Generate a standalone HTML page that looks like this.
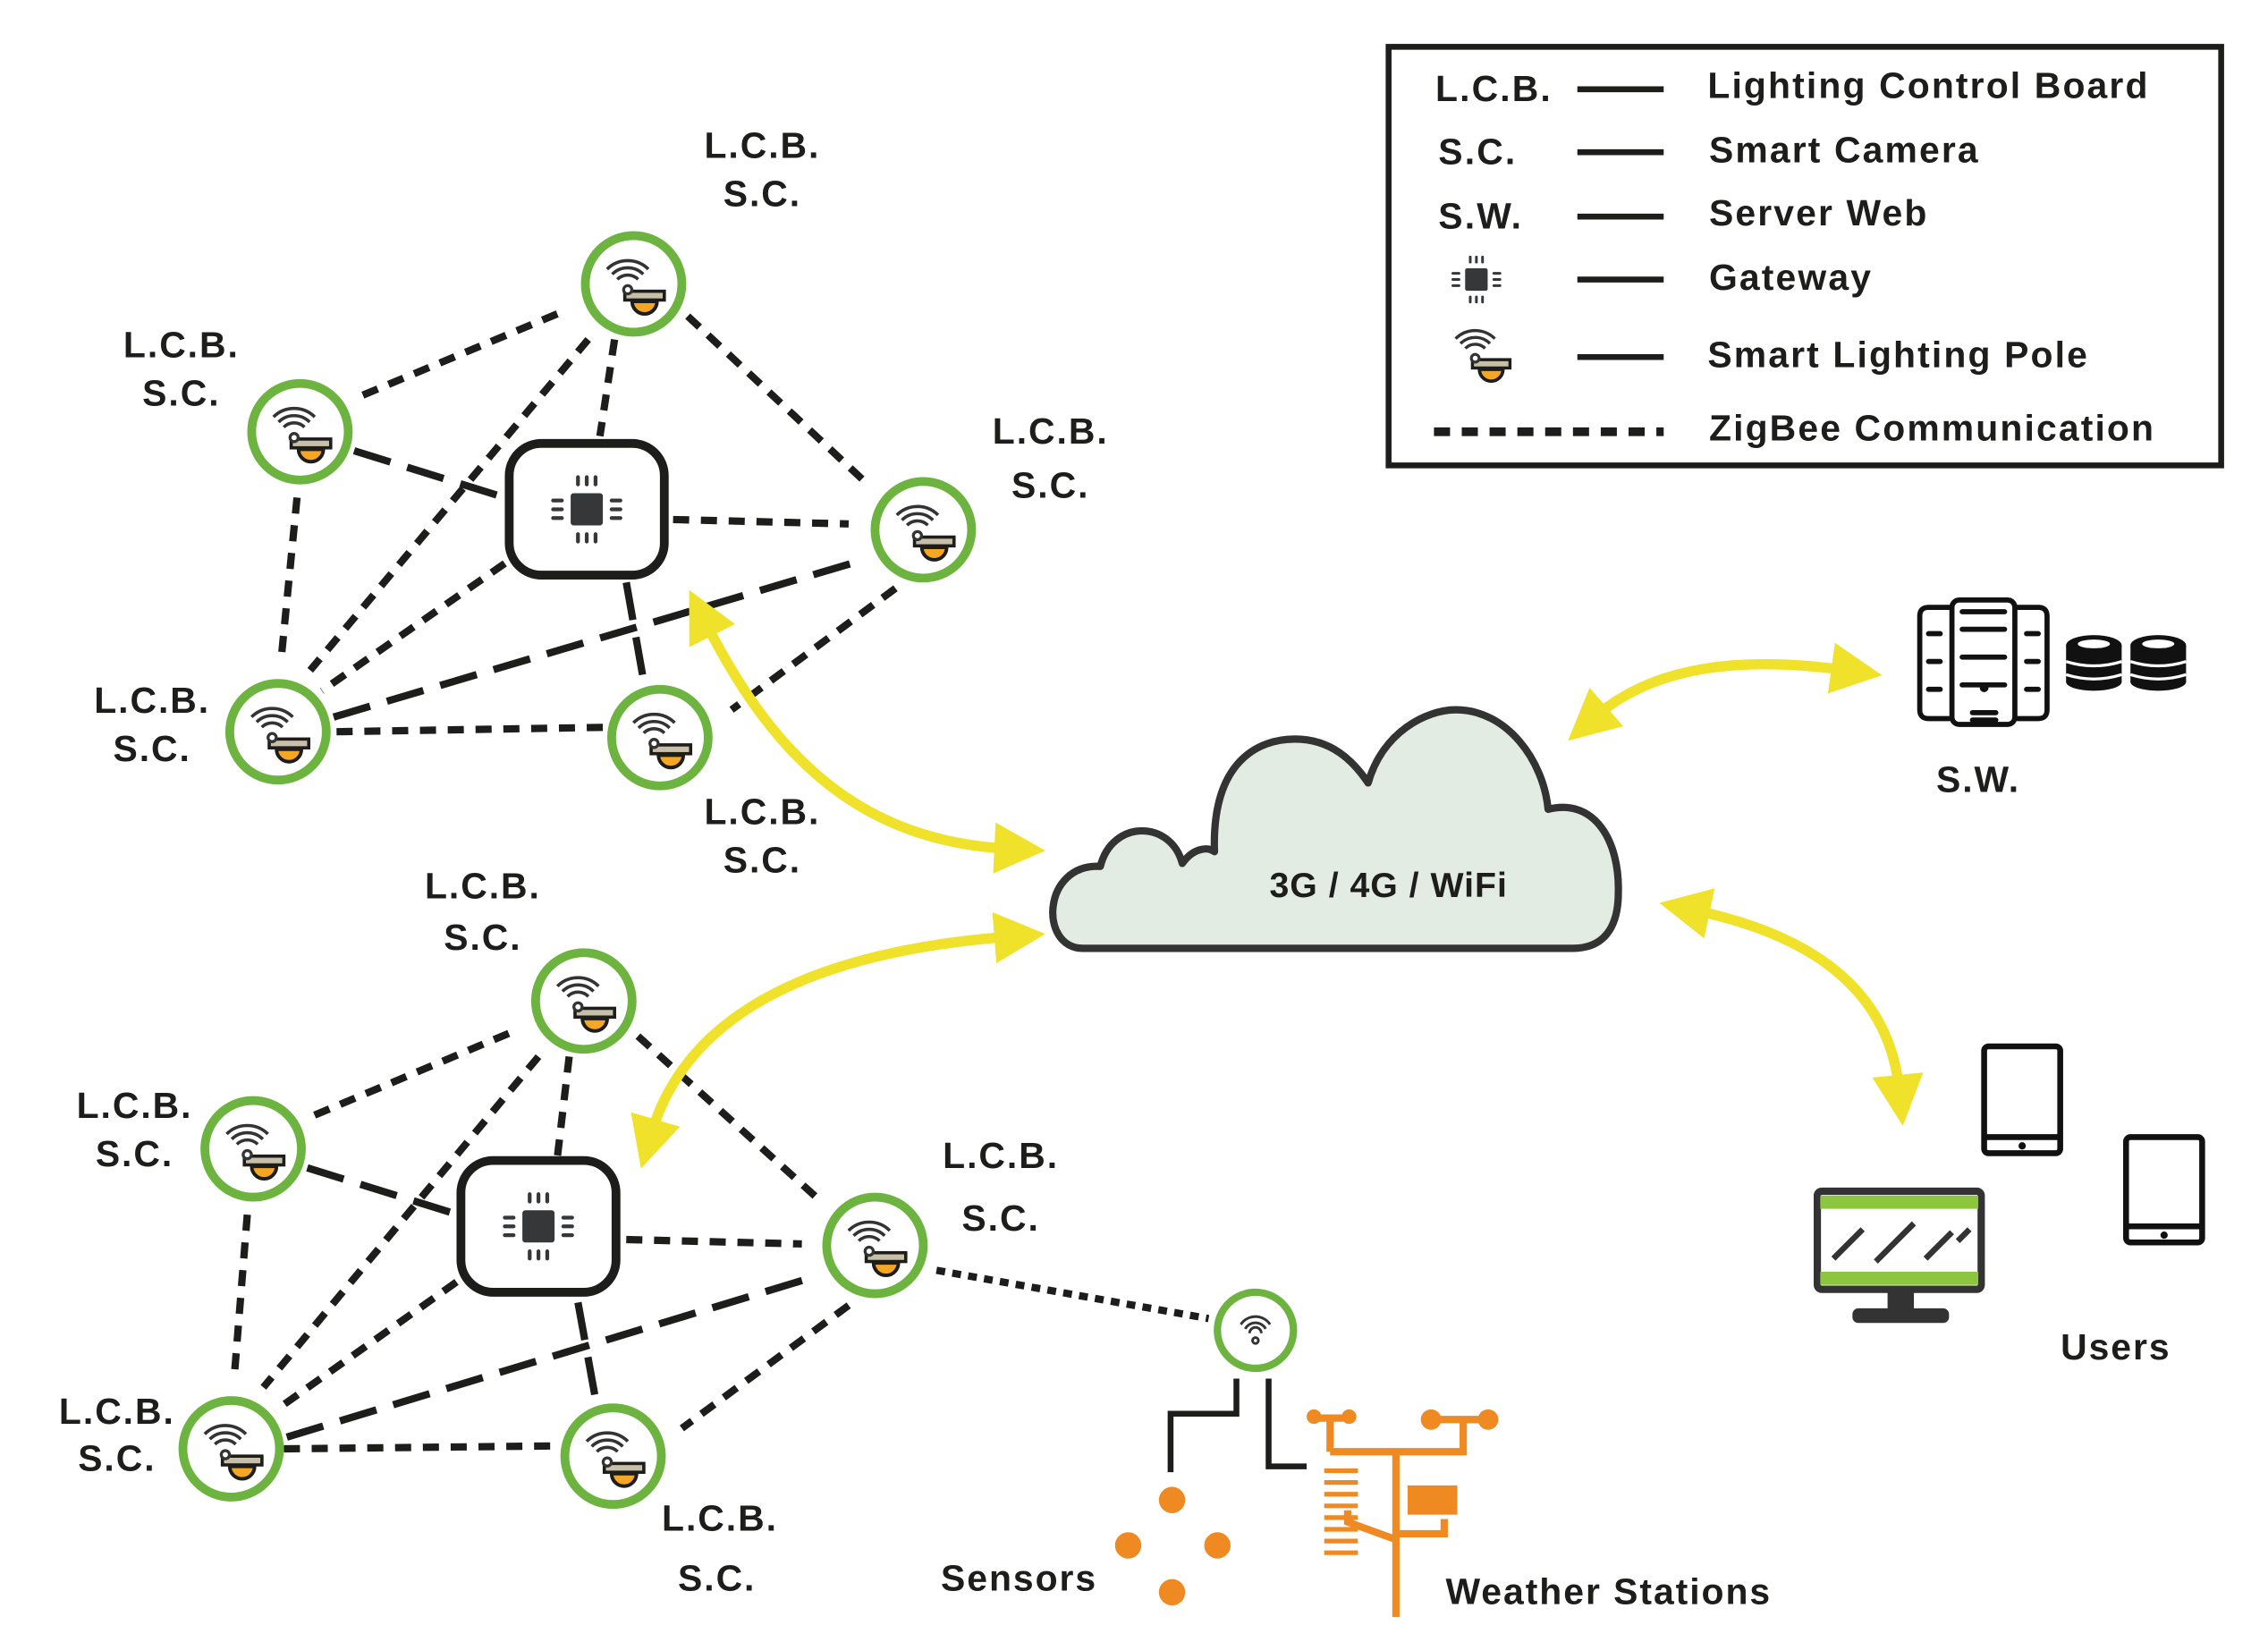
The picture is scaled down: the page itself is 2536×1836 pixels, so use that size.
<!DOCTYPE html>
<html><head><meta charset="utf-8"><style>
html,body{margin:0;padding:0;background:#fff;}
svg{display:block;}
text{font-family:"Liberation Sans",sans-serif;font-weight:bold;fill:#1d1d1b;}
</style></head><body>
<svg width="2536" height="1836" viewBox="0 0 1550 1122" preserveAspectRatio="none" xmlns="http://www.w3.org/2000/svg">
<defs>
<g id="picon">
 <path d="M-18.1,-10.1 A20,20 0 0 1 10.1,-10.1" fill="none" stroke="#333" stroke-width="2.2"/>
 <path d="M-14.6,-6.6 A15,15 0 0 1 6.6,-6.6" fill="none" stroke="#333" stroke-width="2.2"/>
 <path d="M-11.1,-3.1 A10,10 0 0 1 3.1,-3.1" fill="none" stroke="#333" stroke-width="2.2"/>
 <rect x="-6" y="5" width="27" height="6" fill="#c8bfa8" stroke="#1d1d1b" stroke-width="2.2"/>
 <path d="M-1,12 H16 A8.5,8.5 0 0 1 -1,12 Z" fill="#f5a623" stroke="#1d1d1b" stroke-width="2.4"/>
 <circle cx="-4" cy="4" r="2.8" fill="#fff" stroke="#333" stroke-width="2"/>
</g>
<g id="pole">
 <circle cx="0" cy="0" r="33" fill="#fff" stroke="#6db33f" stroke-width="6"/>
 <use href="#picon"/>
</g>
<g id="chip">
 <rect x="-11" y="-11" width="22" height="22" rx="2" fill="#353739"/>
 <g stroke="#353739" stroke-width="2.6" stroke-linecap="round">
  <path d="M-6,-17v-5M0,-17v-5M6,-17v-5M-6,17v5M0,17v5M6,17v5M-17,-6h-6M-17,0h-6M-17,6h-6M17,-6h6M17,0h6M17,6h6"/>
 </g>
</g>
<g id="gw">
 <rect x="-53" y="-45" width="106" height="90" rx="22" fill="#fff" stroke="#1d1d1b" stroke-width="6"/>
 <use href="#chip"/>
</g>
<marker id="ah" viewBox="0 0 10 10" refX="3" refY="5" markerWidth="5" markerHeight="5" orient="auto-start-reverse" markerUnits="strokeWidth">
 <path d="M0,0 L10,5 L0,10 Z" fill="#f0e22a"/>
</marker>
</defs>

<g stroke="#1d1d1b" fill="none">
 <g stroke-width="5" stroke-dasharray="11,8">
  <path d="M248,270 L382,214"/><path d="M470,216 L592,330"/><path d="M420,232 L410,298"/>
  <path d="M402,232 L212,458"/><path d="M203,340 L192,452"/><path d="M460,355 L580,358"/>
  <path d="M345,385 L220,472"/><path d="M230,500 L413,497"/><path d="M612,402 L500,485"/>
 </g>
 <g stroke-width="5" stroke-dasharray="26,12">
  <path d="M242,308 L345,340"/><path d="M428,398 L440,466"/><path d="M228,490 L592,382"/>
 </g>
 <g stroke-width="5" stroke-dasharray="11,8">
  <path d="M215,762 L348,706"/><path d="M436,708 L560,820"/><path d="M389,722 L381,790"/>
  <path d="M368,722 L180,948"/><path d="M169,830 L160,942"/><path d="M428,847 L548,850"/>
  <path d="M312,876 L188,964"/><path d="M194,990 L381,988"/><path d="M580,892 L466,976"/>
 </g>
 <g stroke-width="5" stroke-dasharray="26,12">
  <path d="M210,798 L313,830"/><path d="M395,890 L407,956"/><path d="M196,982 L558,872"/>
 </g>
 <path d="M640,868 L826,901" stroke-width="5" stroke-dasharray="6,5"/>
 <path d="M845,942 V966 H800 V1006" stroke-width="4"/>
 <path d="M867,942 V1002 H893" stroke-width="4"/>
</g>

<use href="#pole" x="433" y="194"/>
<use href="#pole" x="205" y="295"/>
<use href="#pole" x="631" y="362"/>
<use href="#pole" x="190" y="500"/>
<use href="#pole" x="451" y="504"/>
<use href="#gw" x="401" y="348"/>
<use href="#pole" x="399" y="684"/>
<use href="#pole" x="173" y="785"/>
<use href="#pole" x="598" y="851"/>
<use href="#pole" x="158" y="990"/>
<use href="#pole" x="419" y="995"/>
<use href="#gw" x="368" y="838"/>
<circle cx="858" cy="909" r="26" fill="#fff" stroke="#6db33f" stroke-width="5"/>
<g fill="none" stroke="#333" stroke-width="1.8">
 <path d="M848,905 A12,12 0 0 1 868,905"/><path d="M851,908 A8,8 0 0 1 865,908"/><path d="M854,911 A4,4 0 0 1 862,911"/>
 <circle cx="858" cy="916" r="2"/>
</g>

<g fill="none" stroke="#f0e22a" stroke-width="7" marker-start="url(#ah)" marker-end="url(#ah)">
 <path d="M482,425 C530,520 590,575 690,580"/>
 <path d="M690,640 C560,650 470,690 445,775"/>
 <path d="M1090,490 C1130,455 1190,448 1262,458"/>
 <path d="M1158,622 C1220,635 1290,665 1298,745"/>
</g>

<path d="M740,648 C710,648 712,590 752,592 C760,560 800,560 808,590 C815,580 825,578 830,582 C828,520 860,505 885,505 C910,505 925,520 935,535 C945,500 975,485 995,485 C1030,485 1055,520 1058,553 C1090,545 1107,575 1106,610 C1106,635 1095,648 1075,648 Z" fill="#e3ece3" stroke="#333" stroke-width="5" stroke-linejoin="round"/>
<text x="949" y="613" font-size="24" letter-spacing="0.6" text-anchor="middle">3G / 4G / WiFi</text>

<g font-size="25" letter-spacing="1.2" text-anchor="middle">
 <text x="521" y="108">L.C.B.</text><text x="521" y="141">S.C.</text>
 <text x="124" y="244">L.C.B.</text><text x="124" y="277">S.C.</text>
 <text x="718" y="303">L.C.B.</text><text x="718" y="340">S.C.</text>
 <text x="104" y="487">L.C.B.</text><text x="104" y="520">S.C.</text>
 <text x="521" y="563">L.C.B.</text><text x="521" y="596">S.C.</text>
 <text x="330" y="614">L.C.B.</text><text x="330" y="649">S.C.</text>
 <text x="92" y="764">L.C.B.</text><text x="92" y="797">S.C.</text>
 <text x="684" y="798">L.C.B.</text><text x="684" y="841">S.C.</text>
 <text x="80" y="973">L.C.B.</text><text x="80" y="1005">S.C.</text>
 <text x="492" y="1046">L.C.B.</text><text x="490" y="1087">S.C.</text>
 <text x="1352" y="541">S.W.</text>
 <text x="1446" y="929">Users</text>
</g>
<text x="643" y="1087" font-size="25" letter-spacing="1.2">Sensors</text>
<text x="988" y="1096" font-size="25" letter-spacing="1.2">Weather Stations</text>

<rect x="949" y="32" width="569" height="286" fill="#fff" stroke="#1d1d1b" stroke-width="4"/>
<g font-size="25" letter-spacing="1.3">
 <text x="981" y="69">L.C.B.</text><text x="983" y="112">S.C.</text><text x="983" y="156">S.W.</text>
 <text x="1167" y="67">Lighting Control  Board</text>
 <text x="1168" y="111">Smart Camera</text>
 <text x="1168" y="154">Server Web</text>
 <text x="1168" y="198">Gateway</text>
 <text x="1167" y="251">Smart Lighting Pole</text>
 <text x="1168" y="301">ZigBee Communication</text>
</g>
<g stroke="#1d1d1b" stroke-width="4">
 <path d="M1078,61 H1137 M1078,104 H1137 M1078,148 H1137 M1078,191 H1137 M1078,244 H1137"/>
 <path d="M980,295 H1137" stroke-width="6" stroke-dasharray="11,8"/>
</g>
<use href="#chip" transform="translate(1009,191) scale(0.7)"/>
<use href="#picon" transform="translate(1012,241) scale(0.95)"/>

<g fill="none" stroke="#111" stroke-width="3.5" stroke-linecap="round">
 <rect x="1334" y="410" width="43" height="85" rx="5"/>
 <path d="M1332,415 H1318 Q1312,415 1312,421 V485 Q1312,491 1318,491 H1332"/>
 <path d="M1379,415 H1393 Q1399,415 1399,421 V485 Q1399,491 1393,491 H1379"/>
 <path d="M1341,418 H1370 M1341,430 H1370 M1341,449 H1370 M1341,468 H1370 M1318,433 H1326 M1318,452 H1326 M1318,471 H1326 M1385,433 H1393 M1385,452 H1393 M1385,471 H1393 M1348,492 H1364 M1348,487 H1364"/>
</g>
<circle cx="1356" cy="470" r="3" fill="#111"/>
<g fill="#111">
 <g id="db"><ellipse cx="1431" cy="441" rx="19" ry="7"/><rect x="1412" y="441" width="38" height="25"/><ellipse cx="1431" cy="466" rx="19" ry="6"/>
  <ellipse cx="1431" cy="440" rx="11" ry="3" fill="#fff"/>
  <path d="M1412,452 Q1431,458 1450,452 M1412,461 Q1431,467 1450,461" stroke="#fff" stroke-width="2" fill="none"/></g>
 <use href="#db" x="44"/>
</g>

<g fill="none" stroke="#111" stroke-width="4">
 <rect x="1356" y="715" width="52" height="73" rx="3"/>
 <rect x="1453" y="777" width="52" height="72" rx="3"/>
</g>
<path d="M1356,777 H1408 M1453,838 H1505" stroke="#111" stroke-width="4"/>
<circle cx="1382" cy="783" r="2.5" fill="#111"/><circle cx="1479" cy="844" r="2.5" fill="#111"/>
<rect x="1242" y="814" width="112" height="67" rx="3" fill="#fff" stroke="#333" stroke-width="5"/>
<rect x="1244" y="817" width="108" height="9" fill="#8cc63f"/>
<rect x="1244" y="869" width="108" height="9" fill="#8cc63f"/>
<path d="M1253,860 L1273,840 M1282,862 L1308,836 M1316,860 L1334,842 M1338,848 L1346,840" stroke="#333" stroke-width="4"/>
<rect x="1290" y="882" width="18" height="13" fill="#333"/>
<rect x="1266" y="894" width="66" height="10" rx="4" fill="#333"/>

<g fill="#ef8a22">
 <circle cx="801" cy="1025" r="9"/><circle cx="771" cy="1056" r="9"/><circle cx="832" cy="1056" r="9"/><circle cx="801" cy="1088" r="9"/>
</g>
<g fill="none" stroke="#ef8a22" stroke-width="5">
 <path d="M954,1105 V992 M909,992 H1000 V970 M909,992 V969 M898,969 H922 M978,970 H1017 M954,1052 L921,1040 V1032 M954,1048 H987 V1038"/>
</g>
<g fill="#ef8a22">
 <circle cx="898" cy="968" r="5"/><circle cx="922" cy="968" r="5"/><circle cx="978" cy="970" r="7"/><circle cx="1017" cy="970" r="7"/>
 <rect x="962" y="1015" width="34" height="20"/>
</g>
<g stroke="#ef8a22" stroke-width="3.2">
 <path d="M905,1005 H928 M905,1013 H928 M905,1021 H928 M905,1029 H928 M905,1037 H928 M905,1045 H928 M905,1053 H928 M905,1061 H928"/>
</g>
</svg>
</body></html>
